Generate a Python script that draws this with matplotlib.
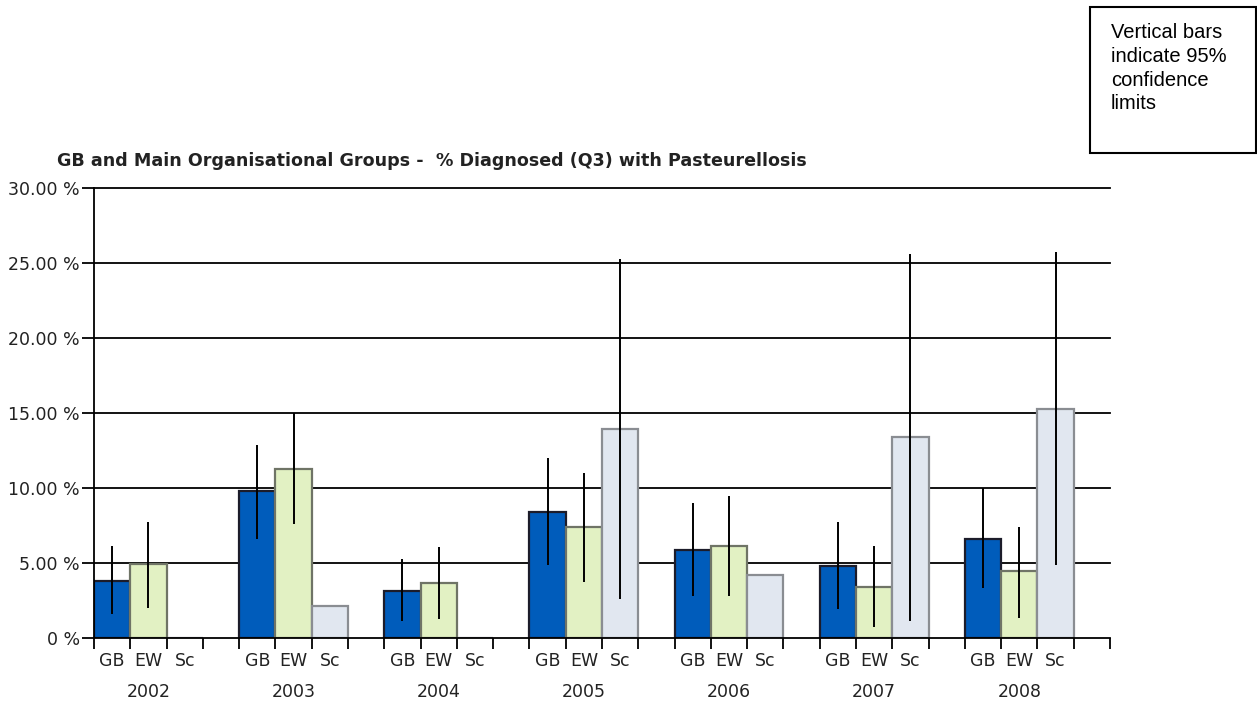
import matplotlib
matplotlib.use('Agg')

import matplotlib.pyplot as plt
import matplotlib.transforms as mtransforms
from matplotlib.patches import Rectangle
import numpy as np

# Jahre und Gruppen
years = ['2002', '2003', '2004', '2005', '2006', '2007', '2008']
groups = ['GB', 'EW', 'Sc']

# Anteil diagnostiziert (%) je Gruppe
gb = [3.80, 9.78, 3.16, 8.38, 5.87, 4.82, 6.62]
ew = [4.93, 11.27, 3.69, 7.40, 6.11, 3.38, 4.47]
sc = [np.nan, 2.13, np.nan, 13.91, 4.20, 13.38, 15.24]

# 95% Konfidenzgrenzen (unten, oben)
gb_lo = [1.60, 6.58, 1.13, 4.87, 2.78, 1.91, 3.31]
gb_hi = [6.13, 12.85, 5.24, 11.98, 9.02, 7.76, 9.98]
ew_lo = [2.00, 7.58, 1.24, 3.76, 2.78, 0.71, 1.36]
ew_hi = [7.75, 14.98, 6.04, 11.00, 9.49, 6.13, 7.42]
sc_lo = [np.nan, np.nan, np.nan, 2.58, np.nan, 1.15, 4.84]
sc_hi = [np.nan, np.nan, np.nan, 25.27, np.nan, 25.58, 25.71]

y_ticks = [0, 5, 10, 15, 20, 25, 30]
y_labels = ['0 %', '5.00 %', '10.00 %', '15.00 %', '20.00 %', '25.00 %', '30.00 %']


def main():
    fig = plt.figure(figsize=(12.57, 7.04), dpi=100)
    ax = fig.add_axes([94 / 1257, 1 - 638 / 704, (1110 - 94) / 1257, 450 / 704])

    series = [
        (gb, gb_lo, gb_hi, '#005cbb', '#1c1c2a'),
        (ew, ew_lo, ew_hi, '#e2f1c3', '#6f7466'),
        (sc, sc_lo, sc_hi, '#e1e7f0', '#8a8d92'),
    ]

    n = len(years)
    for i, (vals, lo, hi, face, edge) in enumerate(series):
        xs = np.arange(n) * 4 + i + 0.5
        v = np.array(vals, dtype=float)
        ax.bar(xs, np.nan_to_num(v), width=1.0, color=face, edgecolor=edge,
               linewidth=1.6, zorder=2)
        lo = np.array(lo, dtype=float)
        hi = np.array(hi, dtype=float)
        ok = ~np.isnan(lo)
        ax.vlines(xs[ok], lo[ok], hi[ok], color='black', linewidth=1.4, zorder=3)

    ax.set_xlim(0, 4 * n)
    ax.set_ylim(0, 30)

    # Gitterlinien
    for y in y_ticks[1:]:
        ax.axhline(y, color='black', linewidth=1.3, zorder=1, clip_on=False)

    ax.set_yticks(y_ticks)
    ax.set_yticklabels(y_labels)
    ax.tick_params(axis='y', direction='out', length=9, width=1.3, pad=1,
                   labelsize=12.5, colors='black', labelcolor='#222222')

    ax.set_xticks(np.arange(0, 4 * n + 1))
    ax.set_xticklabels([])
    ax.tick_params(axis='x', which='major', direction='out', length=8, width=1.3)
    centers = [g * 4 + i + 0.5 for g in range(n) for i in range(3)]
    ax.set_xticks(centers, minor=True)
    ax.set_xticklabels(groups * n, minor=True)
    ax.tick_params(axis='x', which='minor', length=0, pad=10, labelsize=12.5,
                   labelcolor='#222222')

    trans = mtransforms.blended_transform_factory(ax.transData, ax.transAxes)
    for g, yr in enumerate(years):
        ax.text(g * 4 + 1.5, -0.12, yr, transform=trans, ha='center', va='center',
                fontsize=12.5, color='#222222')

    for s in ['top', 'right']:
        ax.spines[s].set_visible(False)
    ax.spines['left'].set_linewidth(1.3)
    ax.spines['bottom'].set_linewidth(1.3)

    fig.text(57 / 1257, 1 - 161 / 704,
             'GB and Main Organisational Groups -  % Diagnosed (Q3) with Pasteurellosis',
             fontsize=12.6, fontweight='bold', color='#222222', ha='left', va='center')

    # Hinweiskasten oben rechts
    box = Rectangle((1090 / 1257, 1 - 153 / 704), 166 / 1257, 146 / 704,
                    transform=fig.transFigure, facecolor='white', edgecolor='black',
                    linewidth=1.5)
    fig.patches.append(box)
    fig.text(1111 / 1257, 1 - 23 / 704,
             'Vertical bars\nindicate 95%\nconfidence\nlimits',
             family='Liberation Sans', fontsize=14.5, linespacing=1.32,
             ha='left', va='top')

    plt.savefig('out.png', dpi=100)
    plt.close()


if __name__ == "__main__":
    main()
